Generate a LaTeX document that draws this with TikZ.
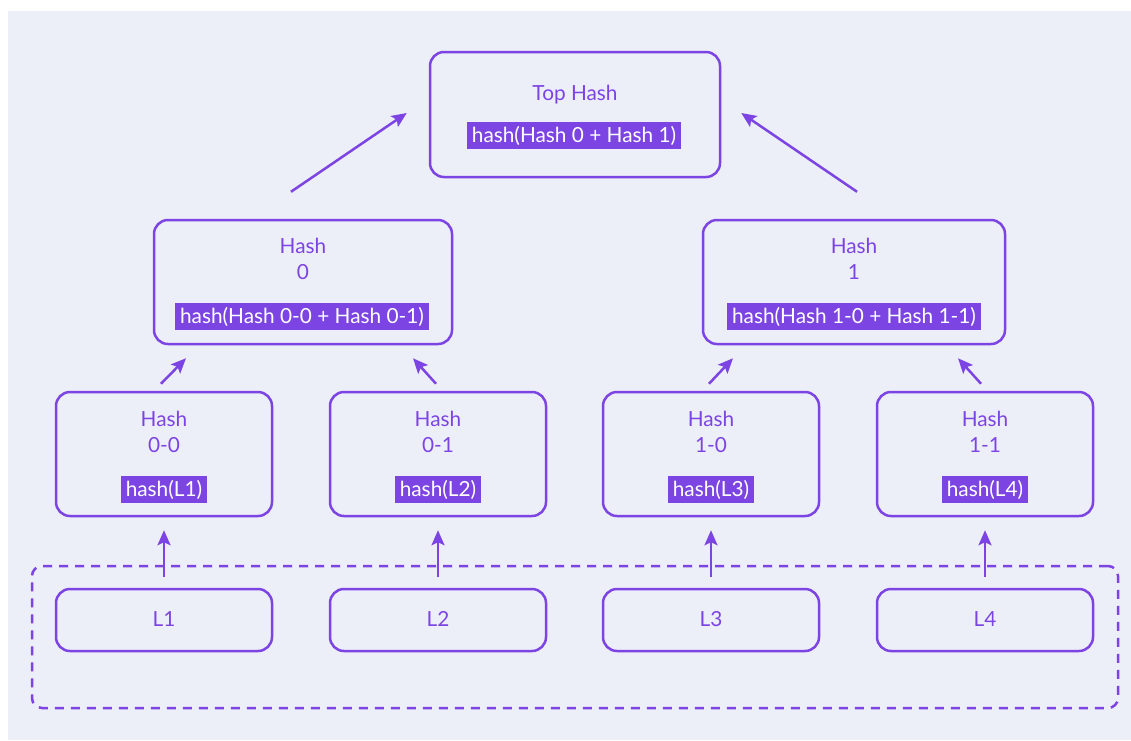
\documentclass[tikz,border=0pt]{standalone}
\usepackage{fontspec}
\setmainfont{Lato}
\usetikzlibrary{arrows.meta,calc}
\definecolor{bg}{HTML}{ECEEF8}
\definecolor{pur}{HTML}{7D44E4}
\begin{document}
\begin{tikzpicture}[x=1pt,y=-1pt,
  box/.style={draw=pur, line width=2.5pt, rounded corners=14pt, inner sep=0pt},
  lbl/.style={text=pur, font=\fontsize{20.8}{24}\selectfont, inner sep=0pt, anchor=base},
  hl/.style={fill=pur, text=white, font=\fontsize{20.8}{24}\selectfont, inner xsep=5pt, inner ysep=0pt, text height=20.5pt, text depth=6.5pt, anchor=base},
  arr/.style={draw=pur, line width=2.5pt, -{Stealth[length=15pt,width=13pt,inset=3pt]}},
  grp/.style={draw=pur, line width=2.5pt, dash pattern=on 9pt off 7pt, rounded corners=10pt, inner sep=0pt}]
\useasboundingbox (0,0) rectangle (1131,740);
\fill[white] (0,0) rectangle (1131,740);
\fill[bg] (8,11) rectangle (1131,740);

% group of leaves
\node[grp, minimum width=1086pt, minimum height=142pt] (grp) at (575,637) {};

% top
\node[box, minimum width=290pt, minimum height=125pt] (top) at (575,114.5) {};
\node[lbl] (topt) at (575,100) {Top Hash};
\node[hl] (toph) at (574,142) {hash(Hash 0 + Hash 1)};

% level 1
\node[box, minimum width=298pt, minimum height=124pt] (h0) at (303,282) {};
\node[lbl] (h0a) at (303,253) {Hash};
\node[lbl] (h0b) at (303,279.5) {0};
\node[hl] (h0h) at (302,323.5) {hash(Hash 0-0 + Hash 0-1)};

\node[box, minimum width=302pt, minimum height=124pt] (h1) at (854,282) {};
\node[lbl] (h1a) at (854,253) {Hash};
\node[lbl] (h1b) at (854,279.5) {1};
\node[hl] (h1h) at (854,323.5) {hash(Hash 1-0 + Hash 1-1)};

% level 2
\foreach \n/\x/\t/\l in {h00/164/0-0/L1, h01/438/0-1/L2, h10/711/1-0/L3, h11/985/1-1/L4}{
  \node[box, minimum width=216pt, minimum height=124pt] (\n) at (\x,454) {};
  \node[lbl] (\n a) at (\x,426) {Hash};
  \node[lbl] (\n b) at (\x,452) {\t};
  \node[hl] (\n h) at (\x,496) {hash(\l)};
  \node[box, minimum width=216pt, minimum height=62pt] (\l) at (\x,620) {};
  \node[lbl] (\l t) at (\x,626) {\l};
}

% leaf arrows
\foreach \l/\n in {L1/h00, L2/h01, L3/h10, L4/h11}{
  \draw[arr, shorten <=11pt, shorten >=13pt] (\l.north) -- (\n.south);
}

% level 2 -> level 1
\draw[arr] ($(h00.north)+(-3,-7)$) -- ($(h0.south)+(-117,13)$);
\draw[arr] ($(h01.north)+(-2,-7)$) -- ($(h0.south)+(110,13)$);
\draw[arr] ($(h10.north)+(-2,-7)$) -- ($(h1.south)+(-121,13)$);
\draw[arr] ($(h11.north)+(-4,-7)$) -- ($(h1.south)+(104,13)$);

% level 1 -> top
\draw[arr] ($(h0.north)+(-12,-27)$) -- ($(top.west)+(-22,-1.5)$);
\draw[arr] ($(h1.north)+(3,-27)$) -- ($(top.east)+(20,-1.5)$);
\end{tikzpicture}
\end{document}
